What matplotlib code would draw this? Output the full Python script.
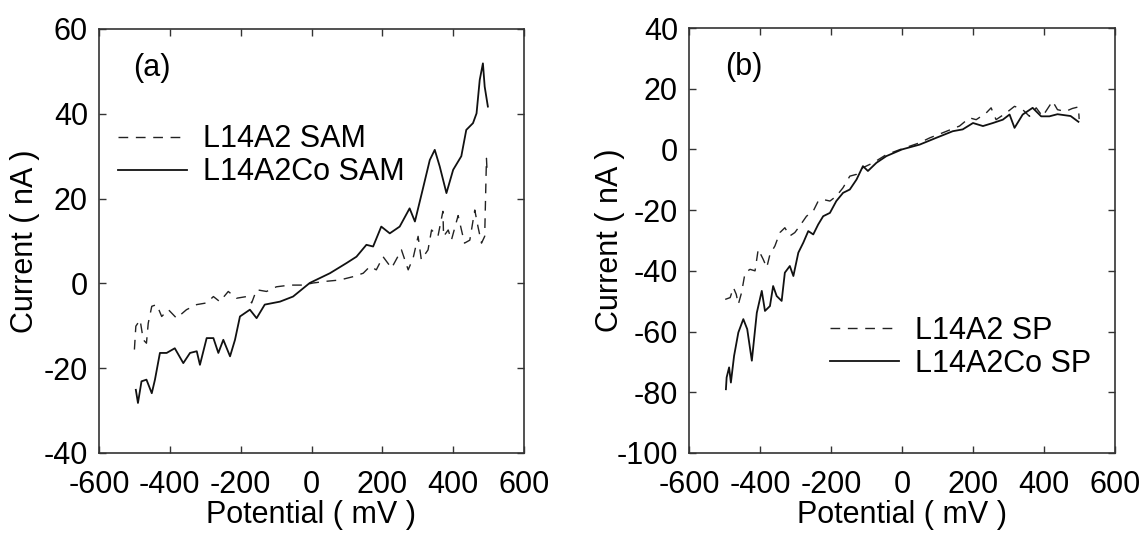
import matplotlib
matplotlib.use("Agg")
import matplotlib.pyplot as plt

plt.rcParams['font.family'] = ['Liberation Sans', 'DejaVu Sans']
plt.rcParams['font.size'] = 22
plt.rcParams['axes.unicode_minus'] = False

# panel (a): SAM
sam_x = [-500, -496, -484, -475, -466, -461, -451, -437, -423, -404, -381, -353, -324, -296,
         -277, -259, -235, -212, -183, -169, -155, -127, -99, -61, -24, 5, 42, 80, 118, 146,
         165, 183, 202, 226, 254, 273, 287, 301, 310, 329, 339, 357, 371, 373, 386, 395, 414,
         432, 447, 461, 470, 480, 489, 494, 496]
sam_y = [-15.6, -10.1, -8.6, -13.3, -14.1, -9.4, -5.4, -5.0, -7.8, -6.2, -8.2, -6.2, -5.0, -4.6,
         -3.1, -4.3, -1.9, -3.5, -3.1, -4.6, -1.5, -1.9, -0.8, -0.4, -0.4, 0.1, 0.5, 0.8, 1.6, 2.4,
         4.0, 3.2, 6.3, 3.6, 7.9, 3.2, 6.0, 11.1, 5.6, 7.9, 12.6, 11.1, 17.0, 11.1, 12.6, 10.2, 16.0,
         9.5, 10.2, 17.3, 13.4, 9.5, 11.1, 29.5, 26.0]

sam_co_x = [-496, -490, -480, -466, -451, -442, -428, -409, -386, -362, -343, -324, -315, -296,
            -277, -263, -249, -230, -216, -202, -174, -155, -132, -89, -52, -5, 52, 99, 127, 155,
            174, 197, 221, 249, 277, 292, 315, 334, 348, 362, 381, 400, 423, 437, 456, 466, 475,
            484, 489, 498]
sam_co_y = [-25.1, -28.2, -23.1, -22.7, -25.9, -22.7, -16.4, -16.4, -15.3, -18.8, -16.4, -16.0,
            -19.2, -12.9, -12.9, -16.4, -13.3, -17.2, -13.3, -7.8, -6.2, -8.2, -5.0, -4.3, -3.1,
            0.1, 2.4, 4.8, 6.3, 9.1, 8.7, 13.4, 11.8, 13.4, 17.7, 14.6, 22.5, 29.1, 31.5, 27.6,
            21.3, 26.8, 30.0, 36.2, 37.8, 40.1, 48.0, 51.9, 46.4, 41.7]

# panel (b): SP
sp_x = [-498, -484, -475, -467, -461, -452, -442, -428, -414, -405, -391, -381, -372, -358,
        -344, -330, -316, -302, -288, -269, -250, -236, -222, -203, -185, -166, -147, -128,
        -110, -81, -44, 0, 50, 78, 115, 162, 190, 209, 237, 251, 265, 293, 317, 340, 359, 378,
        396, 424, 438, 460, 480, 497, 499]
sp_y = [-49.4, -48.8, -45.5, -47.7, -51.0, -47.2, -40.6, -39.5, -40.0, -32.9, -36.2, -38.9,
        -34.6, -31.8, -27.4, -25.8, -28.5, -27.4, -25.2, -22.0, -20.3, -17.0, -16.5, -17.0,
        -15.4, -12.6, -8.8, -8.2, -6.0, -4.4, -1.7, 0.2, 2.2, 3.8, 5.5, 7.7, 10.4, 9.8, 12.0,
        13.7, 9.8, 12.0, 14.2, 13.1, 10.9, 13.7, 10.9, 15.9, 13.1, 12.5, 13.5, 14.0, 10.0]

sp_co_x = [-496, -494, -487, -482, -473, -461, -447, -436, -423, -409, -395, -386, -372, -363,
           -353, -339, -330, -316, -306, -292, -278, -264, -250, -236, -222, -203, -185, -166,
           -147, -128, -110, -96, -72, -44, 0, 50, 96, 143, 171, 200, 228, 256, 284, 303, 317,
           340, 368, 392, 415, 438, 475, 497]
sp_co_y = [-79.0, -75.1, -71.8, -76.8, -68.0, -60.3, -55.9, -59.2, -69.6, -53.8, -46.6, -53.2,
           -51.6, -45.0, -48.3, -49.9, -40.6, -38.4, -41.7, -34.0, -30.7, -26.9, -28.0, -24.7,
           -22.0, -20.9, -17.0, -14.3, -13.2, -9.9, -5.5, -7.1, -4.4, -2.2, 0.0, 1.6, 3.8, 6.0,
           6.6, 8.7, 7.7, 8.7, 9.8, 11.5, 7.1, 11.5, 13.7, 10.9, 10.9, 11.6, 11.0, 9.1]

fig = plt.figure(figsize=(11.43, 5.33), dpi=100)
ax1 = fig.add_axes([99 / 1143, 80 / 533, 425 / 1143, 424 / 533])
ax2 = fig.add_axes([689 / 1143, 80 / 533, 426 / 1143, 425 / 533])

dash = (7, 5.5)
leg_kw = dict(loc='upper left', frameon=False, handlelength=2.25, handletextpad=0.52,
              labelspacing=0.1, borderaxespad=0, fontsize=22)

ax1.plot(sam_x, sam_y, color='#222222', lw=1.0, dashes=dash, label='L14A2 SAM')
ax1.plot(sam_co_x, sam_co_y, color='#111111', lw=1.3, label='L14A2Co SAM')
ax1.set_xlim(-600, 600)
ax1.set_ylim(-40, 60)
ax1.set_yticks(range(-40, 61, 20))
ax1.text(0.08, 0.908, '(a)', transform=ax1.transAxes, va='center', fontsize=22)
ax1.legend(bbox_to_anchor=(0.016, 0.804), **leg_kw)

ax2.plot(sp_x, sp_y, color='#222222', lw=1.0, dashes=dash, label='L14A2 SP')
ax2.plot(sp_co_x, sp_co_y, color='#111111', lw=1.3, label='L14A2Co SP')
ax2.set_xlim(-600, 600)
ax2.set_ylim(-100, 40)
ax2.set_yticks(range(-100, 41, 20))
ax2.text(0.085, 0.908, '(b)', transform=ax2.transAxes, va='center', fontsize=22)
ax2.legend(bbox_to_anchor=(0.303, 0.352), **leg_kw)

for ax in (ax1, ax2):
    ax.set_xticks(range(-600, 601, 200))
    ax.tick_params(direction='in', top=True, right=True, length=5, width=1.0,
                   color='#333333', labelsize=22)
    ax.tick_params(axis='y', pad=8)
    ax.tick_params(axis='x', pad=12.5)
    for s in ax.spines.values():
        s.set_linewidth(1.2)
        s.set_color('#333333')
    ax.set_xlabel('Potential ( mV )', fontsize=22, labelpad=0)
    ax.set_ylabel('Current ( nA )', fontsize=22)

ax1.yaxis.set_label_coords(-0.139, 0.5)
ax2.yaxis.set_label_coords(-0.15, 0.5)

fig.savefig('out.png', dpi=100)
